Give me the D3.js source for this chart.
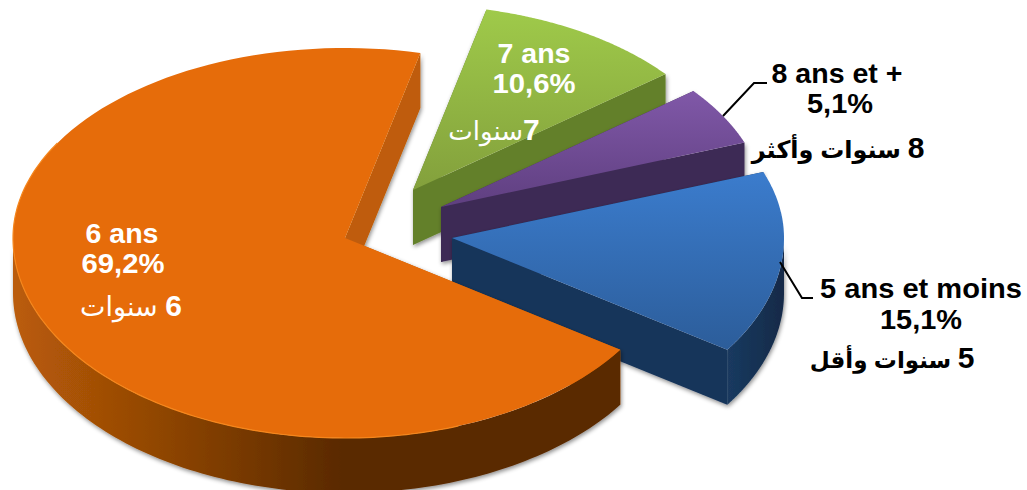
<!DOCTYPE html>
<html>
<head>
<meta charset="utf-8">
<style>
  html, body { margin: 0; background: #fff; }
  svg { display: block; }
  text { font-family: "Liberation Sans", "DejaVu Sans", sans-serif; font-weight: bold; font-size: 27px; text-anchor: middle; }
</style>
</head>
<body>
<svg id="chart" width="1027" height="490"></svg>
<script src="https://cdn.jsdelivr.net/npm/d3@7"></script>
<script>
// values
const categories = ['6 ans', '7 ans', '8 ans et +', '5 ans et moins'];
const percents = ['69,2%', '10,6%', '5,1%', '15,1%'];
const arabic = ['6 سنوات', '7سنوات', '8 سنوات وأكثر', '5 سنوات وأقل'];
const values = [69.2, 10.6, 5.1, 15.1];

// look of each slice
const topColors = [['#e66c0a', '#e66c0a'], ['#9fca4a', '#83a03c'], ['#8058a8', '#5f3f80'], ['#3b7ccd', '#2c5d9a']];
const faceColors = ['#bf5c07', '#64802c', '#3e2a55', '#17345a'];
const rimColors = [['#bb5c08', '#5a2a00'], ['#64802c', '#64802c'], ['#3e2a55', '#3e2a55'], ['#1a3a60', '#132a48']];
const apexes = [[345, 238], [413, 190], [441, 207], [452, 238]];
const radii = [1, 0.975, 0.975, 1];
// label centres: [x, baseline, fitted width]
const nameSpots = [[122, 243, 73], [534, 63, 73], [837, 83, 131], [921, 298, 202]];
const pctSpots = [[123, 273, 83], [534, 93, 83], [840, 113, 66], [921, 329, 82]];
const arSpots = [[131, 316], [494, 140], [838, 158], [892, 368]];
const arWeights = ['normal', 'normal', 'bold', 'bold'];
const arSizes = [27, 26, 24, 23];
const textColors = ['#fff', '#fff', '#000', '#000'];
const leaders = [null, null, [[723, 116], [754, 83], [767, 83]], [[780, 262], [802, 298], [813, 298]]];

const rx = 332, ryBack = 190, ryFront = 200, depth = 55;
const rad = Math.PI / 180;

const svg = d3.select('#chart');
const defs = svg.append('defs');

defs.append('filter').attr('id', 'shadow')
  .attr('x', '-5%').attr('y', '-5%').attr('width', '110%').attr('height', '110%')
  .append('feDropShadow')
  .attr('dx', 1).attr('dy', 2).attr('stdDeviation', 2)
  .attr('flood-color', '#000').attr('flood-opacity', 0.45);

const pie = d3.pie().sort(null).value(d => d)
  .startAngle(124 * rad).endAngle(484 * rad);
// bring the slices past the top back into 0..360, the orange one stays whole
const slices = pie(values).map(s => {
  const turn = s.startAngle >= 2 * Math.PI ? 2 * Math.PI : 0;
  return { startAngle: s.startAngle - turn, endAngle: s.endAngle - turn };
});

// angle clockwise from the top, onto the tilted ellipse
function project(a, i, drop = 0) {
  const c = Math.cos(a);
  const r = radii[i];
  return [apexes[i][0] + r * rx * Math.sin(a), apexes[i][1] - r * (c > 0 ? ryBack : ryFront) * c + drop];
}

const line = d3.line();
const arcPoints = (a0, a1, i, drop) =>
  d3.range(0, 121).map(k => project(a0 + (a1 - a0) * k / 120, i, drop));

// orange wall runs dark at the front, lighter to the far left
const rimO = defs.append('linearGradient').attr('id', 'rim0')
  .attr('x1', 1).attr('y1', 0).attr('x2', 0).attr('y2', 0);
rimO.append('stop').attr('offset', 0).attr('stop-color', rimColors[0][1]);
rimO.append('stop').attr('offset', 0.46).attr('stop-color', rimColors[0][1]);
rimO.append('stop').attr('offset', 1).attr('stop-color', rimColors[0][0]);

// paint order: back slices first, orange on top of the blue wall
const order = [1, 2, 3, 0];

order.forEach(i => {
  const s = slices[i];
  const apex = apexes[i];
  const g = svg.append('g').attr('filter', 'url(#shadow)');

  const topGrad = defs.append('linearGradient').attr('id', 'top' + i)
    .attr('x1', 0).attr('y1', 0).attr('x2', 0).attr('y2', 1);
  topGrad.append('stop').attr('offset', 0).attr('stop-color', topColors[i][0]);
  topGrad.append('stop').attr('offset', 1).attr('stop-color', topColors[i][1]);

  if (i !== 0) {
    const rimGrad = defs.append('linearGradient').attr('id', 'rim' + i)
      .attr('x1', 0).attr('y1', 0).attr('x2', 1).attr('y2', 0);
    rimGrad.append('stop').attr('offset', 0).attr('stop-color', rimColors[i][0]);
    rimGrad.append('stop').attr('offset', 1).attr('stop-color', rimColors[i][1]);
  }

  // cut faces
  [s.startAngle, s.endAngle].forEach(a => {
    const p = project(a, i);
    const face = [apex, p, [p[0], p[1] + depth], [apex[0], apex[1] + depth]];
    g.append('path').attr('d', line(face) + 'Z').attr('fill', faceColors[i]);
  });

  // outer wall, only the part turned to the viewer
  const w0 = Math.max(s.startAngle, 90 * rad);
  const w1 = Math.min(s.endAngle, 270 * rad);
  if (w1 > w0) {
    const wall = arcPoints(w0, w1, i, 0).concat(arcPoints(w0, w1, i, depth).reverse());
    g.append('path').attr('d', line(wall) + 'Z').attr('fill', 'url(#rim' + i + ')');
  }

  // top surface
  const outline = [apex].concat(arcPoints(s.startAngle, s.endAngle, i, 0));
  svg.append('path').attr('d', line(outline) + 'Z').attr('fill', 'url(#top' + i + ')');

  // thin light edge along the orange rim
  if (i === 0) {
    svg.append('path').attr('d', line(arcPoints(160 * rad, 300 * rad, i, 0)))
      .attr('fill', 'none').attr('stroke', '#f5861c').attr('stroke-width', 1.2);
  }
});

// leader lines
leaders.forEach(pts => {
  if (pts) svg.append('path').attr('d', line(pts)).attr('fill', 'none').attr('stroke', '#000').attr('stroke-width', 2);
});

function label(str, spot, color) {
  const t = svg.append('text')
    .attr('x', spot[0]).attr('y', spot[1]).attr('fill', color)
    .text(str);
  if (spot[2]) t.attr('textLength', spot[2]).attr('lengthAdjust', 'spacingAndGlyphs');
  return t;
}

categories.forEach((c, i) => {
  label(c, nameSpots[i], textColors[i]);
  label(percents[i], pctSpots[i], textColors[i]);

  // arabic line: big bold digit on the right, the words after it
  const t = label('', arSpots[i], textColors[i]).attr('direction', 'rtl');
  t.append('tspan').attr('font-size', 30).text(arabic[i].slice(0, 1));
  t.append('tspan').attr('font-size', arSizes[i]).attr('font-weight', arWeights[i]).text(arabic[i].slice(1));
});
</script>
</body>
</html>
